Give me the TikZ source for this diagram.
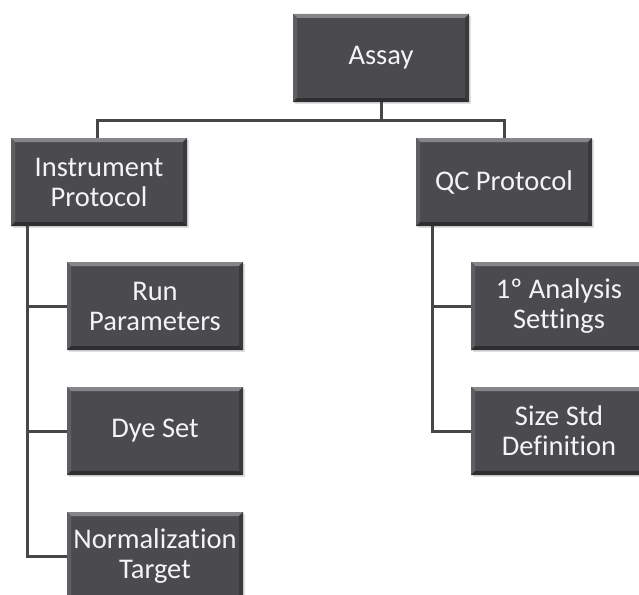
\documentclass[tikz,border=0pt]{standalone}
\usepackage{fontspec}
\setmainfont{Carlito}[Ligatures=NoCommon]
\usetikzlibrary{shadows}
\definecolor{boxfill}{HTML}{4B4B4F}
\definecolor{bevtop}{HTML}{85858A}
\definecolor{bevleft}{HTML}{5F5F63}
\definecolor{bevright}{HTML}{3A3A3D}
\definecolor{bevbottom}{HTML}{2E2E30}
\definecolor{linkgray}{HTML}{474747}
\definecolor{labeltext}{HTML}{F4F4F4}
\tikzset{
  bevelbox/.style={
    rectangle, minimum width=176pt, minimum height=88pt, inner sep=0pt,
    fill=boxfill, text=labeltext, align=center,
    font=\fontsize{28.5}{30}\selectfont,
    drop shadow={opacity=0.25, shadow xshift=2pt, shadow yshift=-2pt},
    path picture={
      \coordinate (nw) at (path picture bounding box.north west);
      \coordinate (ne) at (path picture bounding box.north east);
      \coordinate (sw) at (path picture bounding box.south west);
      \coordinate (se) at (path picture bounding box.south east);
      \fill[bevtop] (nw) -- (ne) -- ([shift={(-4pt,-4pt)}]ne) -- ([shift={(4pt,-4pt)}]nw) -- cycle;
      \fill[bevleft] (nw) -- ([shift={(4pt,-4pt)}]nw) -- ([shift={(4pt,4pt)}]sw) -- (sw) -- cycle;
      \fill[bevright] (ne) -- ([shift={(-4pt,-4pt)}]ne) -- ([shift={(-4pt,4pt)}]se) -- (se) -- cycle;
      \fill[bevbottom] (sw) -- ([shift={(4pt,4pt)}]sw) -- ([shift={(-4pt,4pt)}]se) -- (se) -- cycle;
    }
  },
  link/.style={draw=linkgray, line width=3pt}
}
\begin{document}
\begin{tikzpicture}[x=1pt, y=-1pt]
  \useasboundingbox (0,0) rectangle (639,594);
  \clip (0,0) rectangle (639,594);

  % boxes
  \node[bevelbox] (assay) at (381,58)  {Assay};
  \node[bevelbox] (instr) at (99,182)  {Instrument\\Protocol};
  \node[bevelbox] (qc)    at (504,182) {QC Protocol};
  \node[bevelbox] (run)   at (155,306) {Run\\Parameters};
  \node[bevelbox] (dye)   at (155,431) {Dye Set};
  \node[bevelbox] (norm)  at (155,556) {Normalization\\Target};
  \node[bevelbox] (anal)  at (559,306) {1º Analysis\\Settings};
  \node[bevelbox] (size)  at (559,431) {Size Std\\Definition};

  % top-level tree
  \coordinate (bus) at (381,120);
  \draw[link] (assay.south) -- (bus) -| ([xshift=-2pt]instr.north);
  \draw[link] (bus) -| (qc.north);

  % instrument protocol spine
  \coordinate (lspine) at ([xshift=17pt]instr.south west);
  \draw[link] (lspine) |- (run.west);
  \draw[link] (lspine) |- (dye.west);
  \draw[link] (lspine) |- (norm.west);

  % QC protocol spine
  \coordinate (rspine) at ([xshift=17pt]qc.south west);
  \draw[link] (rspine) |- (anal.west);
  \draw[link] (rspine) |- (size.west);
\end{tikzpicture}
\end{document}
